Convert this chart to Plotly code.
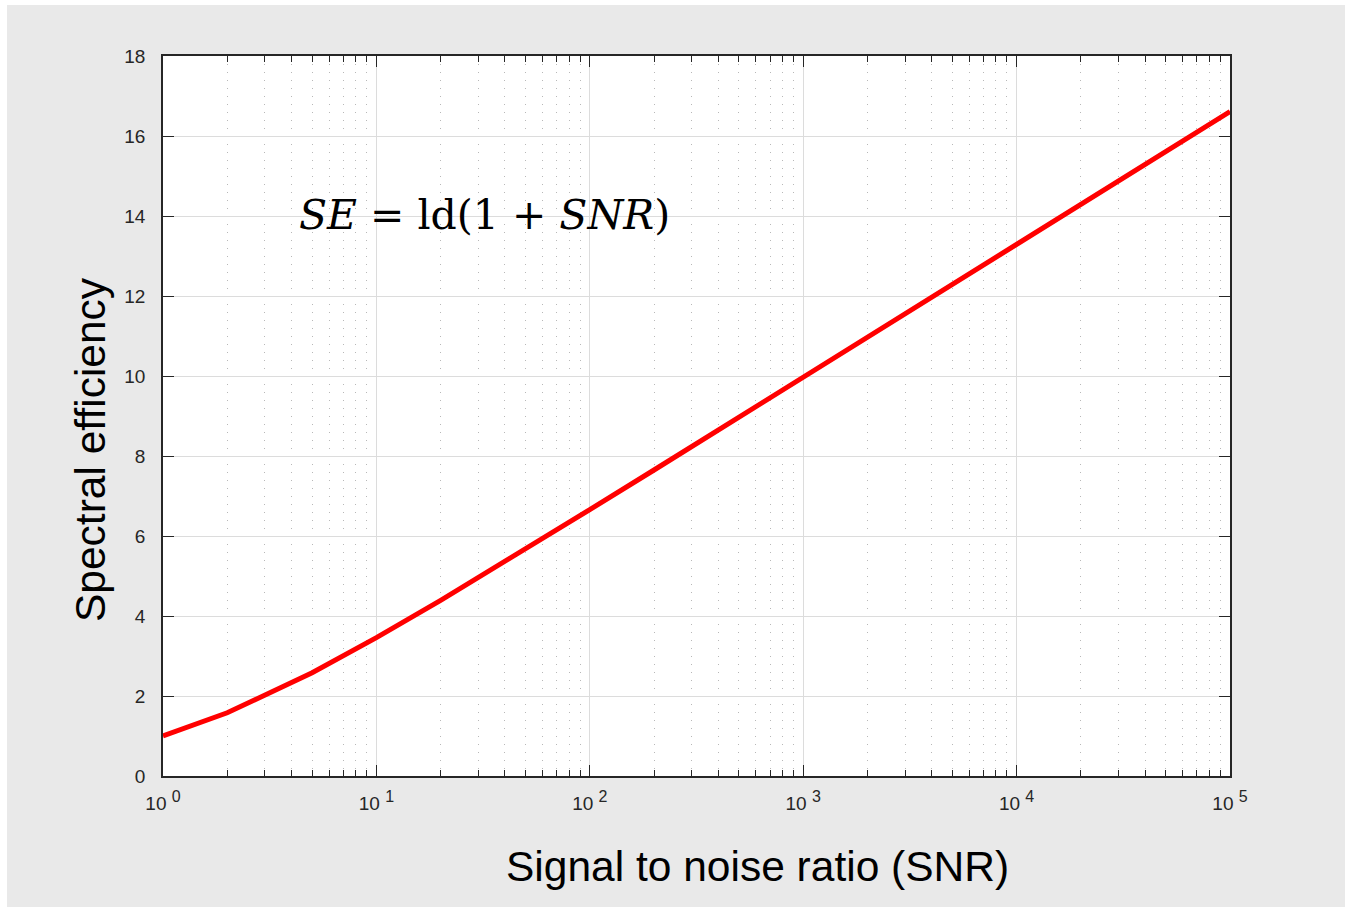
import plotly.graph_objects as go

snr = [1, 2, 5, 10, 20, 50, 100, 200, 500, 1000, 2000, 5000, 10000, 20000, 50000, 100000]
se = [1.0, 1.58, 2.58, 3.46, 4.39, 5.67, 6.66, 7.65, 8.97, 9.97, 10.97, 12.29, 13.29, 14.29, 15.61, 16.61]
y_ticks = [0, 2, 4, 6, 8, 10, 12, 14, 16, 18]
x_ticks = [1, 10, 100, 1000, 10000, 100000]
x_exponents = ["0", "1", "2", "3", "4", "5"]
x_ticktext = ["10 <sup><span style='font-size:16px'>%s</span></sup>" % e for e in x_exponents]

W, H = 1345, 907
L, R, T, B = 163, 115, 56, 131
pw, ph = W - L - R, H - T - B

fig = go.Figure()
fig.add_trace(go.Scatter(x=snr, y=se, mode="lines",
                         line=dict(color="#ff0000", width=5), showlegend=False))

fig.update_layout(
    width=W, height=H,
    margin=dict(l=L, r=R, t=T, b=B),
    paper_bgcolor="#e9e9e9", plot_bgcolor="white",
    font=dict(family="Liberation Sans, Arial, sans-serif", color="#262626"),
    shapes=[
        dict(type="rect", xref="paper", yref="paper", layer="below",
             x0=-L / pw, x1=(7 - L) / pw, y0=-B / ph, y1=1 + T / ph,
             fillcolor="white", line=dict(width=0)),
        dict(type="rect", xref="paper", yref="paper", layer="below",
             x0=-L / pw, x1=1 + R / pw, y0=1 + (T - 5) / ph, y1=1 + T / ph,
             fillcolor="white", line=dict(width=0)),
    ],
)

fig.update_xaxes(
    type="log", range=[0, 5],
    tickvals=x_ticks, ticktext=x_ticktext,
    tickfont=dict(size=19, color="#262626"),
    ticks="inside", ticklen=11, tickwidth=1, tickcolor="#262626",
    showline=True, linecolor="#262626", linewidth=1.5, mirror="ticks",
    showgrid=True, gridcolor="#dcdcdc", gridwidth=1,
    minor=dict(dtick="D1", ticks="inside", ticklen=6, tickcolor="#262626",
               showgrid=True, gridcolor="#b8b8b8", griddash="1px,7px", gridwidth=1),
    zeroline=False, ticklabelstandoff=9,
)
fig.update_yaxes(
    range=[0, 18], tickvals=y_ticks,
    tickfont=dict(size=19, color="#262626"),
    ticks="inside", ticklen=11, tickwidth=1, tickcolor="#262626",
    showline=True, linecolor="#262626", linewidth=1.5, mirror="ticks",
    showgrid=True, gridcolor="#dcdcdc", gridwidth=1,
    zeroline=False, ticklabelstandoff=12,
)

fig.add_annotation(text="Signal to noise ratio (SNR)", xref="paper", yref="paper",
                   x=(757 - L) / pw, y=-(866 - T - ph) / ph, showarrow=False,
                   font=dict(size=42.5, color="black"), xanchor="center", yanchor="middle")
fig.add_annotation(text="Spectral efficiency", xref="paper", yref="paper",
                   x=(90 - L) / pw, y=1 - (450 - T) / ph, showarrow=False, textangle=-90,
                   font=dict(size=42.5, color="black"), xanchor="center", yanchor="middle")
fig.add_annotation(text="<i>SE</i> = ld(1 + <i>SNR</i>)", xref="paper", yref="paper",
                   x=(297 - L) / pw, y=1 - (215 - T) / ph, showarrow=False,
                   font=dict(size=41, color="black", family="DejaVu Serif, Liberation Serif, serif"),
                   xanchor="left", yanchor="middle")

fig.write_html("out.html")
